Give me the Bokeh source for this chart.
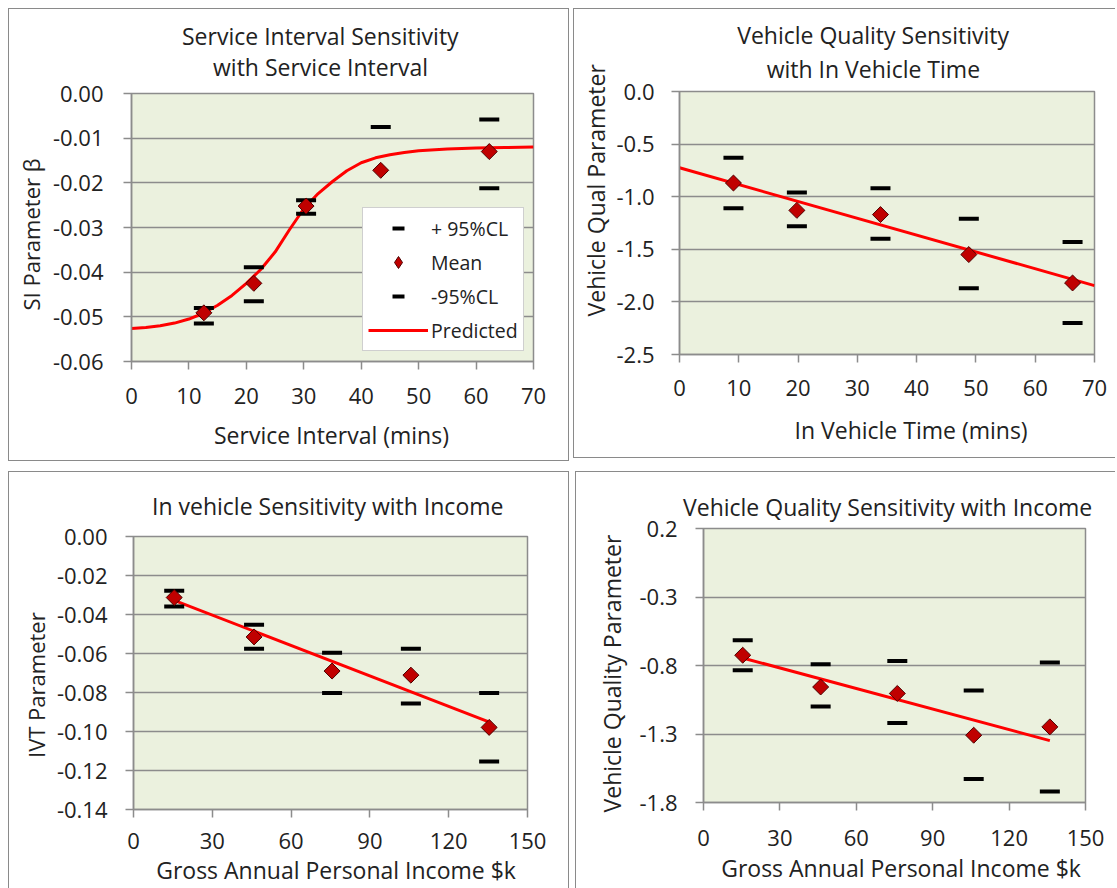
import numpy as np
from bokeh.plotting import figure
from bokeh.models import Range1d, FixedTicker, PrintfTickFormatter, Legend, LegendItem, Title
from bokeh.layouts import column, row
from bokeh.embed import file_html
from bokeh.resources import INLINE

FONT = "Open Sans"
TXT = "#222222"
GRID = "#8c8c8c"
BG = "#EBF1DE"
PANEL_BORDER = "1px solid #8a8a8a"

# ---------------- Panel 1: Service Interval Sensitivity ----------------
si_x = [12.6, 21.3, 30.4, 43.4, 62.3]
si_mean = [-0.0491, -0.0425, -0.0252, -0.0172, -0.0130]
si_upper = [-0.0480, -0.0389, -0.0239, -0.0075, -0.0058]
si_lower = [-0.0515, -0.0465, -0.0269, -0.0265, -0.0212]
si_pred_x = [0, 2.5, 5, 7.5, 10, 12.5, 15, 17.5, 20, 22.5, 25, 27.5, 30, 32.5,
             35, 37.5, 40, 42.5, 45, 47.5, 50, 55, 60, 65, 70]
si_pred_y = [-0.0526, -0.0524, -0.0520, -0.0514, -0.0505, -0.0492, -0.0474,
             -0.0452, -0.0425, -0.0394, -0.0355, -0.0305, -0.0258, -0.0224,
             -0.0197, -0.0173, -0.0155, -0.0144, -0.0137, -0.0132, -0.0128,
             -0.0124, -0.0122, -0.0121, -0.0120]
si_xticks = [0, 10, 20, 30, 40, 50, 60, 70]
si_yticks = [0.0, -0.01, -0.02, -0.03, -0.04, -0.05, -0.06]

# ---------------- Panel 2: Vehicle Quality vs In Vehicle Time ----------------
vq_x = [9.1, 19.8, 33.9, 48.8, 66.3]
vq_mean = [-0.87, -1.13, -1.17, -1.55, -1.82]
vq_upper = [-0.63, -0.96, -0.92, -1.21, -1.43]
vq_lower = [-1.11, -1.28, -1.40, -1.87, -2.20]
vq_pred_x = [0, 70]
vq_pred_y = [-0.725, -1.845]
vq_xticks = [0, 10, 20, 30, 40, 50, 60, 70]
vq_yticks = [0.0, -0.5, -1.0, -1.5, -2.0, -2.5]

# ---------------- Panel 3: In vehicle Sensitivity with Income ----------------
ivt_x = [15.5, 45.9, 75.6, 105.6, 135.4]
ivt_mean = [-0.0313, -0.0515, -0.0690, -0.0711, -0.0979]
ivt_upper = [-0.0278, -0.0453, -0.0596, -0.0575, -0.0802]
ivt_lower = [-0.0359, -0.0575, -0.0802, -0.0857, -0.1154]
ivt_pred_x = [15, 136]
ivt_pred_y = [-0.0325, -0.0955]
ivt_xticks = [0, 30, 60, 90, 120, 150]
ivt_yticks = [0.0, -0.02, -0.04, -0.06, -0.08, -0.10, -0.12, -0.14]

# ---------------- Panel 4: Vehicle Quality Sensitivity with Income ----------------
vqi_x = [15.4, 46.0, 76.1, 106.1, 136.0]
vqi_mean = [-0.725, -0.957, -1.004, -1.309, -1.248]
vqi_upper = [-0.616, -0.790, -0.767, -0.982, -0.779]
vqi_lower = [-0.835, -1.100, -1.219, -1.629, -1.719]
vqi_pred_x = [15, 136]
vqi_pred_y = [-0.743, -1.348]
vqi_xticks = [0, 30, 60, 90, 120, 150]
vqi_yticks = [0.2, -0.3, -0.8, -1.3, -1.8]


def mk_title(text, standoff, offset=0, size="23px"):
    return Title(text=text, align="left", offset=offset, standoff=standoff,
                 text_font=FONT, text_font_size=size, text_font_style="normal",
                 text_color=TXT)


def panel(w, h, borders, xr, yr, xt, yt, fmt, x_std, y_std,
          xs, mean, up, lo, px, py, titles, xtitle, ytitle):
    left, right, top, bottom = borders
    p = figure(width=w, height=h, output_backend="svg", toolbar_location=None,
               x_range=Range1d(*xr), y_range=Range1d(*yr),
               min_border_left=left, min_border_right=right,
               min_border_top=top, min_border_bottom=bottom,
               background_fill_color=BG, border_fill_color="white")
    p.outline_line_color = GRID
    p.outline_line_width = 1.5
    p.xgrid.visible = False
    p.ygrid.grid_line_color = GRID
    p.ygrid.grid_line_width = 1.5
    p.xaxis.ticker = FixedTicker(ticks=xt)
    p.yaxis.ticker = FixedTicker(ticks=yt)
    p.yaxis.formatter = PrintfTickFormatter(format=fmt)
    for ax in (p.xaxis[0], p.yaxis[0]):
        ax.axis_line_color = GRID
        ax.axis_line_width = 1.5
        ax.major_tick_line_color = GRID
        ax.major_tick_line_width = 1.5
        ax.major_tick_out = 8
        ax.major_tick_in = 0
        ax.minor_tick_line_color = None
        ax.major_label_text_font = FONT
        ax.major_label_text_font_size = "22px"
        ax.major_label_text_color = TXT
    p.xaxis.major_label_standoff = x_std
    p.yaxis.major_label_standoff = y_std
    # main (outermost) title line, then the lines nearer to the frame
    (t_main, s_main, o_main) = titles[0]
    p.title = mk_title(t_main, s_main, o_main)
    for (t, s, o) in titles[1:]:
        p.add_layout(mk_title(t, s, o), "above")
    p.add_layout(mk_title(*xtitle), "below")
    p.add_layout(mk_title(*ytitle), "left")
    line = p.line(px, py, line_color="#FF0000", line_width=3)
    r_up = p.scatter(xs, up, marker="dash", size=20, line_color="black", line_width=4)
    r_lo = p.scatter(xs, lo, marker="dash", size=20, line_color="black", line_width=4)
    r_mean = p.scatter(xs, mean, marker="square", angle=np.pi / 4, size=11.3,
                       fill_color="#C00000", line_color="#4d0000", line_width=1)
    return p, line, r_up, r_mean, r_lo


# ---- TL ----
p1, l1, u1, m1, d1 = panel(561, 453, (122, 37, 84, 101), (0, 70), (-0.06, 0.0),
                           si_xticks, si_yticks, "%.2f", 18, 20,
                           si_x, si_mean, si_upper, si_lower, si_pred_x, si_pred_y,
                           [("Service Interval Sensitivity", -26, 50.5),
                            ("with Service Interval", 21, 81.5)],
                           ("Service Interval (mins)", 20, 82.5),
                           ("SI Parameter β", 7, 51, "22px"))
p1.styles = {"border": PANEL_BORDER}
# legend proxy for the diamond marker (Excel diamond)
m1_leg = p1.scatter(x=[np.nan], y=[np.nan], marker="diamond", fill_color="#C00000",
                    line_color="#4d0000", line_width=1)
leg = Legend(items=[LegendItem(label="+ 95%CL", renderers=[u1]),
                    LegendItem(label="Mean", renderers=[m1_leg]),
                    LegendItem(label="-95%CL", renderers=[d1]),
                    LegendItem(label="Predicted", renderers=[l1])],
             location=(231, 10), glyph_width=60, glyph_height=30, spacing=4,
             padding=5, margin=0, label_standoff=3,
             label_text_font=FONT, label_text_font_size="19.5px",
             label_text_color=TXT, border_line_color="#a0a0a0",
             border_line_width=1.5, background_fill_color="white",
             background_fill_alpha=1.0)
p1.add_layout(leg, "center")

# ---- TR ----
p2, *_ = panel(542, 450, (105, 22, 82, 104), (0, 70), (-2.5, 0.0),
               vq_xticks, vq_yticks, "%.1f", 17, 17,
               vq_x, vq_mean, vq_upper, vq_lower, vq_pred_x, vq_pred_y,
               [("Vehicle Quality Sensitivity", -15, 57.7),
                ("with In Vehicle Time", 14, 87.2)],
               ("In Vehicle Time (mins)", 27, 115),
               ("Vehicle Qual Parameter", 4, 38))
p2.styles = {"border-left": PANEL_BORDER, "border-top": PANEL_BORDER,
             "border-bottom": PANEL_BORDER}

# ---- BL ----
p3, *_ = panel(561, 417, (124, 43, 64, 80), (0, 150), (-0.14, 0.0),
               ivt_xticks, ivt_yticks, "%.2f", 15, 18,
               ivt_x, ivt_mean, ivt_upper, ivt_lower, ivt_pred_x, ivt_pred_y,
               [("In vehicle Sensitivity with Income", 30, 18.5)],
               ("Gross Annual Personal Income $k", 0, 22.7),
               ("IVT Parameter", 6, 51.5, "22px"))
p3.styles = {"border-left": PANEL_BORDER, "border-top": PANEL_BORDER,
             "border-right": PANEL_BORDER}

# ---- BR ----
p4, *_ = panel(540, 417, (127, 31, 56, 87), (0, 150), (-1.8, 0.2),
               vqi_xticks, vqi_yticks, "%.1f", 19, 18,
               vqi_x, vqi_mean, vqi_upper, vqi_lower, vqi_pred_x, vqi_pred_y,
               [("Vehicle Quality Sensitivity with Income", 11, -20.5)],
               ("Gross Annual Personal Income $k", 3, 17.7),
               ("Vehicle Quality Parameter", 17, -10))
p4.styles = {"border-left": PANEL_BORDER, "border-top": PANEL_BORDER}

# each figure wrapped in its own column so that frames are not aligned across the row
layout = column(row(column(p1), column(p2), spacing=4),
                row(column(p3), column(p4), spacing=6),
                spacing=10, margin=(8, 0, 0, 8))

open("out.html", "w").write(file_html(layout, INLINE))
